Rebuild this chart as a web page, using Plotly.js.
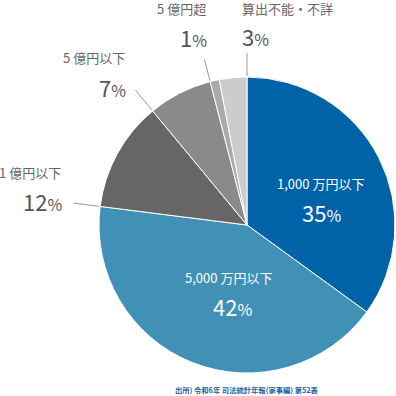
<!DOCTYPE html>
<html>
<head>
<meta charset="utf-8">
<script src="https://cdn.plot.ly/plotly-3.0.1.min.js"></script>
<style>html,body{margin:0;padding:0;background:#fff;}#chart{width:396px;height:396px;}</style>
</head>
<body>
<div id="chart"></div>
<script>
// ---- data ----
const categories = ['1,000 万円以下', '5,000 万円以下', '1 億円以下', '5 億円以下', '5 億円超', '算出不能・不詳'];
const shares = [35, 42, 12, 7, 1, 3];
const sourceNote = '出所) 令和6年 司法統計年報(家事編) 第52表';

// ---- style ----
const sliceColors = ['#0063a8', '#4190b6', '#666666', '#8a8a8a', '#aaaaaa', '#cccccc'];
const W = 396, H = 396;
const cx = 247, cy = 225, R = 148;
const FONT = '"Noto Sans CJK JP", "Noto Sans", sans-serif';

// label layout (pixel positions): [nameX, nameY, pctX, pctY, anchor, inside, leaderBoundary]
const labelLayout = [
  [320, 183, 321, 212, 'center', true, null],
  [228, 277, 232, 306, 'center', true, null],
  [63, 172, 64, 201, 'right', false, 'start'],
  [127, 58, 128, 87, 'right', false, 'start'],
  [208, 9, 209, 37, 'right', false, 'start'],
  [240, 8, 240, 36, 'left', false, 'end']
];
const leaderLen = [0, 0, 27, 27, 23, 24];

const px = x => x / W;
const py = y => 1 - y / H;

const total = shares.reduce((a, b) => a + b, 0);
let cum = 0;
const annotations = [];
const shapes = [];
shares.forEach((v, i) => {
  const start = cum / total, end = (cum + v) / total;
  cum += v;
  const L = labelLayout[i];
  const col = L[5] ? '#ffffff' : '#666666';
  const pcol = L[5] ? '#ffffff' : '#555555';
  annotations.push({
    xref: 'paper', yref: 'paper', x: px(L[0]), y: py(L[1]),
    xanchor: L[4], yanchor: 'middle', showarrow: false,
    text: categories[i], font: {family: FONT, size: 13, color: col}
  });
  annotations.push({
    xref: 'paper', yref: 'paper', x: px(L[2]), y: py(L[3]),
    xanchor: L[4], yanchor: 'middle', showarrow: false,
    text: v + '<span style="font-size:16px">%</span>', font: {family: FONT, size: 22, color: pcol}
  });
  if (L[6]) {
    const f = L[6] === 'start' ? start : end;
    const a = f * 2 * Math.PI;
    const sx = Math.sin(a), sy = -Math.cos(a);
    const r1 = R + 1, r2 = R + leaderLen[i];
    shapes.push({
      type: 'line', xref: 'paper', yref: 'paper',
      x0: px(cx + r1 * sx), y0: py(cy + r1 * sy),
      x1: px(cx + r2 * sx), y1: py(cy + r2 * sy),
      line: {color: '#999999', width: 1}
    });
  }
});
annotations.push({
  xref: 'paper', yref: 'paper', x: px(247), y: py(390),
  xanchor: 'center', yanchor: 'middle', showarrow: false,
  text: '<b>' + sourceNote + '</b>', font: {family: FONT, size: 7.3, color: '#1a5fa8'}
});

const trace = {
  type: 'pie',
  labels: categories,
  values: shares,
  sort: false,
  direction: 'clockwise',
  rotation: 0,
  textinfo: 'none',
  hoverinfo: 'none',
  marker: {colors: sliceColors, line: {color: '#ffffff', width: 1}},
  domain: {x: [(cx - R) / W, (cx + R) / W], y: [(H - cy - R) / H, (H - cy + R) / H]},
  showlegend: false
};

const layout = {
  width: W, height: H,
  margin: {l: 0, r: 0, t: 0, b: 0},
  paper_bgcolor: '#ffffff',
  plot_bgcolor: '#ffffff',
  showlegend: false,
  annotations: annotations,
  shapes: shapes
};

Plotly.newPlot('chart', [trace], layout, {displayModeBar: false, staticPlot: true});
</script>
</body>
</html>
